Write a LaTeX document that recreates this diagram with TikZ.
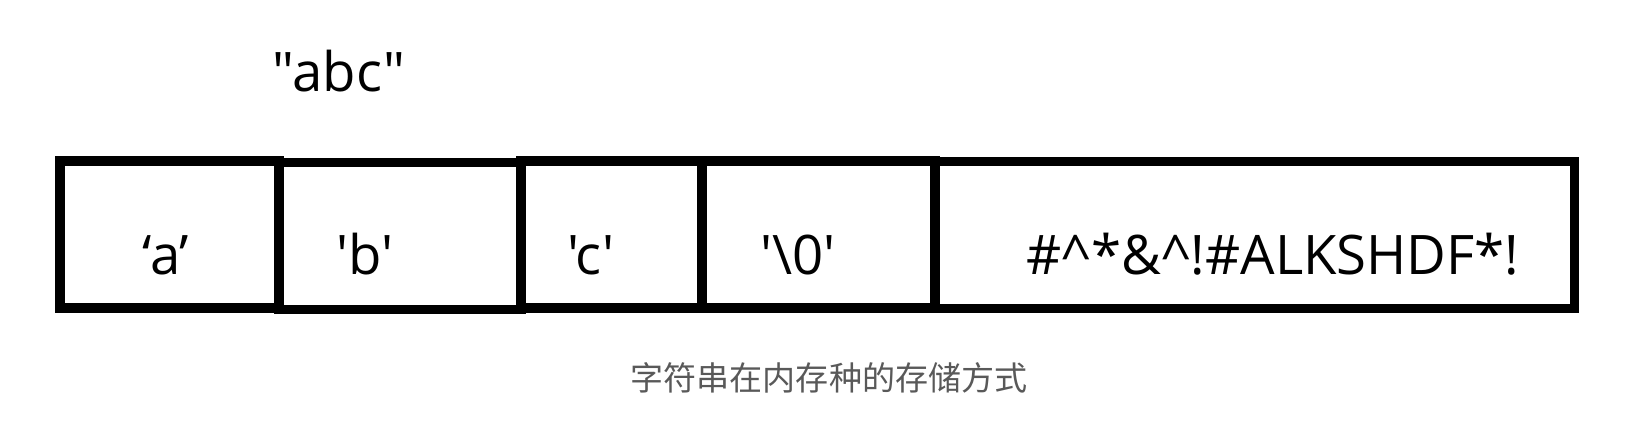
\documentclass[tikz,border=0pt]{standalone}
\usepackage{fontspec}
\setmainfont{Open Sans}[Ligatures=TeXOff]
\newfontfamily\cjk{Noto Sans CJK SC}
\begin{document}
\begin{tikzpicture}[
        x=0.01cm, y=-0.01cm,
        every node/.style={font=\fontsize{15.5}{18}\selectfont, inner sep=0pt},
        celda/.style={draw, line width=2.6pt, minimum height=1.47cm},
        contenido/.style={anchor=base},
        pie/.style={anchor=base, font=\cjk\fontsize{9.4}{12}\selectfont, text=black!65}
    ]
    \useasboundingbox (0,0) rectangle (1626,422);

    % Cadena
    \node[contenido] (cadena) at (339,92) {"abc"};

    % Celdas de memoria
    \node[celda, minimum width=2.19cm] (celdaA) at (169.5,234.5) {};
    \node[celda, minimum width=2.42cm] (celdaB) at (400,236) {};
    \node[celda, minimum width=1.81cm] (celdaC) at (611.5,234.5) {};
    \node[celda, minimum width=2.33cm] (celdaFin) at (818.5,234.5) {};
    \node[celda, minimum width=6.39cm] (basura) at (1254.5,235) {};

    % Contenido
    \node[contenido] (letraA) at (166,275) {‘a’};
    \node[contenido] (letraB) at (365,275) {'b'};
    \node[contenido] (letraC) at (591,275) {'c'};
    \node[contenido] (nulo) at (798,275) {'\textbackslash 0'};
    \node[contenido] (resto) at (1273,275) {\#\textasciicircum*\&\textasciicircum!\#ALKSHDF*!};

    % Pie
    \node[pie] (titulo) at (829,391) {字符串在内存种的存储方式};
\end{tikzpicture}
\end{document}
